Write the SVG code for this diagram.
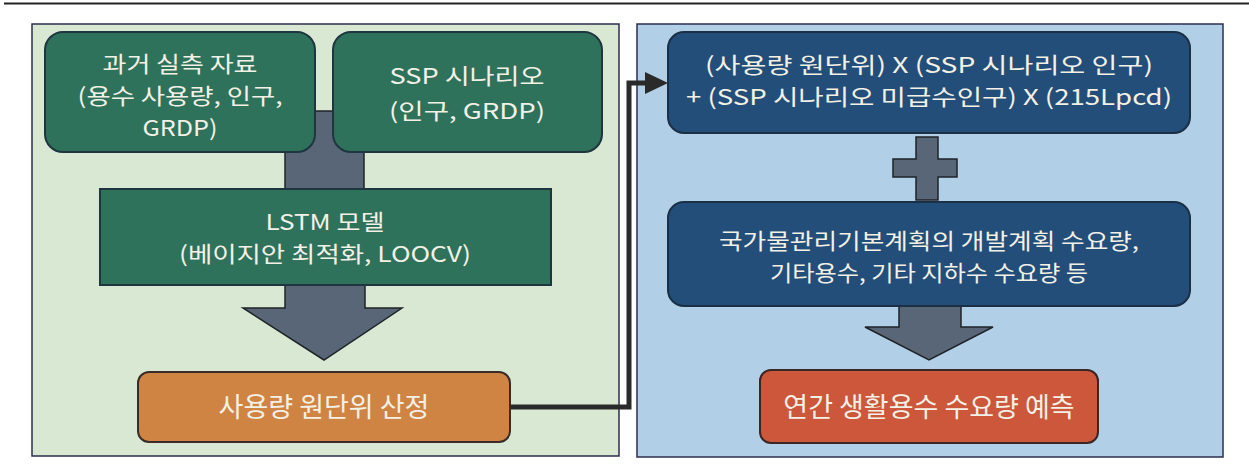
<svg xmlns="http://www.w3.org/2000/svg" width="1249" height="474" viewBox="0 0 1249 474">
<defs>
<style>
.t{font-family:"Noto Sans CJK KR","Noto Sans",sans-serif;fill:#f3f1e6;text-anchor:middle;font-size:22px}
.tb{font-size:27px}
.panel{stroke:#2c2f4f;stroke-width:1.5}
.green{fill:#2f725c;stroke:#1f3540;stroke-width:2}
.blue{fill:#234e79;stroke:#1b2f45;stroke-width:2}
.gray{fill:#586677;stroke:#1f2328;stroke-width:1.5;stroke-linejoin:miter}
.conn{fill:none;stroke:#2a2a2a;stroke-width:5;stroke-linejoin:miter}
</style>
</defs>
<rect width="1249" height="474" fill="#ffffff"/>
<line x1="4" y1="3.5" x2="1249" y2="3.5" stroke="#222" stroke-width="2"/>

<g id="panel-left"><rect class="panel" x="32" y="24" width="587" height="432" fill="#d8e8d3"/></g>
<g id="panel-right"><rect class="panel" x="637" y="24" width="586" height="433" fill="#b1cfe6"/></g>

<g id="connectors">
<rect class="gray" x="285" y="111" width="79" height="79"/>
<path class="gray" d="M285,285 L365,285 L365,308 L402,308 L324,360 L243,308 L285,308 Z"/>
<path class="gray" d="M916,137 L938,137 L938,159 L957,159 L957,177 L938,177 L938,200 L916,200 L916,177 L893,177 L893,159 L916,159 Z"/>
<path class="gray" d="M899,306 L961,306 L961,327 L993,327 L929,360 L865,327 L899,327 Z"/>
<path class="conn" d="M510,407 H629 V83 H648"/>
<polygon points="645,72 668,83 645,94" fill="#2a2a2a"/>
</g>

<g id="node-past">
<rect class="green" x="45" y="32" width="270" height="120" rx="18"/>
<text class="t" x="180" y="72" textLength="155" lengthAdjust="spacingAndGlyphs">과거 실측 자료</text>
<text class="t" x="180" y="104" textLength="205" lengthAdjust="spacingAndGlyphs">(용수 사용량, 인구,</text>
<text class="t" x="180" y="136" textLength="75" lengthAdjust="spacingAndGlyphs">GRDP)</text>
</g>
<g id="node-ssp">
<rect class="green" x="333" y="32" width="269" height="120" rx="18"/>
<text class="t" x="467" y="84" textLength="155" lengthAdjust="spacingAndGlyphs">SSP 시나리오</text>
<text class="t" x="467" y="119" textLength="156" lengthAdjust="spacingAndGlyphs">(인구, GRDP)</text>
</g>
<g id="node-lstm">
<rect class="green" x="100" y="189" width="451" height="96" stroke="#1e3650"/>
<text class="t" x="325" y="230" textLength="119" lengthAdjust="spacingAndGlyphs">LSTM 모델</text>
<text class="t" x="325" y="262" textLength="292" lengthAdjust="spacingAndGlyphs">(베이지안 최적화, LOOCV)</text>
</g>
<g id="node-unit">
<rect x="138" y="372" width="372" height="70" rx="11" fill="#cf8444" stroke="#3a2c2a" stroke-width="2"/>
<text class="t tb" x="324" y="417">사용량 원단위 산정</text>
</g>
<g id="node-formula">
<rect class="blue" x="668" y="32" width="522" height="101" rx="16"/>
<text class="t" x="929" y="73" textLength="448" lengthAdjust="spacingAndGlyphs">(사용량 원단위) X (SSP 시나리오 인구)</text>
<text class="t" x="929" y="105" textLength="486" lengthAdjust="spacingAndGlyphs">+ (SSP 시나리오 미급수인구) X (215Lpcd)</text>
</g>
<g id="node-plan">
<rect class="blue" x="668" y="202" width="522" height="104" rx="16"/>
<text class="t" x="929" y="249" textLength="420" lengthAdjust="spacingAndGlyphs">국가물관리기본계획의 개발계획 수요량,</text>
<text class="t" x="929" y="281" textLength="318" lengthAdjust="spacingAndGlyphs">기타용수, 기타 지하수 수요량 등</text>
</g>
<g id="node-result">
<rect x="760" y="370" width="338" height="73" rx="11" fill="#cc573b" stroke="#3a2624" stroke-width="2"/>
<text class="t tb" x="929" y="417">연간 생활용수 수요량 예측</text>
</g>
</svg>
